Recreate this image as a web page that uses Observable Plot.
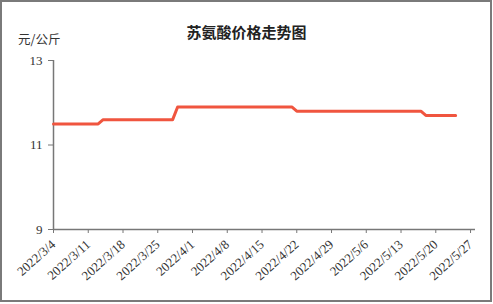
<!DOCTYPE html>
<html>
<head>
<meta charset="utf-8">
<script src="https://cdn.jsdelivr.net/npm/d3@7"></script>
<script src="https://cdn.jsdelivr.net/npm/@observablehq/plot@0.6"></script>
<style>
  html, body { margin: 0; padding: 0; background: #fff; }
  #wrap { position: relative; width: 493px; height: 304px; overflow: hidden; }
  #frame { position: absolute; left: 0; top: 0; width: 488px; height: 298px; border: 2px solid #7a7a7a; pointer-events: none; }
  #title { position: absolute; left: 0; width: 493px; top: 21px; text-align: center; font-family: "Noto Sans CJK SC", sans-serif; font-weight: bold; font-size: 15px; color: #222; }
  #ylab { position: absolute; left: 18px; top: 29px; font-family: "Noto Sans CJK SC", sans-serif; font-size: 12.5px; color: #333; }
  #chart { position: absolute; left: 0; top: 0; }
  #chart svg text { font-family: "Liberation Serif", serif; }
</style>
</head>
<body>
<div id="wrap">
  <div id="chart"></div>
  <div id="title"></div>
  <div id="ylab"></div>
  <div id="frame"></div>
</div>
<script>
const title = "苏氨酸价格走势图";
const unit = "元/公斤";
const dates = ["2022-03-04","2022-03-13","2022-03-14","2022-03-28","2022-03-29","2022-04-21","2022-04-22","2022-05-17","2022-05-18","2022-05-24"];
const prices = [11.5, 11.5, 11.6, 11.6, 11.9, 11.9, 11.8, 11.8, 11.7, 11.7];
const xTickDates = ["2022-03-04","2022-03-11","2022-03-18","2022-03-25","2022-04-01","2022-04-08","2022-04-15","2022-04-22","2022-04-29","2022-05-06","2022-05-13","2022-05-20","2022-05-27"];
const yTicks = [9, 11, 13];
const xDomain = ["2022-03-04", "2022-05-28"];

document.getElementById("title").textContent = title;
document.getElementById("ylab").textContent = unit;

const parse = d3.utcParse("%Y-%m-%d");
const data = dates.map((d, i) => ({date: parse(d), price: prices[i]}));
const fmt = d => `${d.getUTCFullYear()}/${d.getUTCMonth() + 1}/${d.getUTCDate()}`;

const chart = Plot.plot({
  width: 493,
  height: 304,
  marginTop: 60,
  marginBottom: 75,
  marginLeft: 53,
  marginRight: 18,
  style: {fontSize: "12px", color: "#333", background: "transparent"},
  x: {type: "utc", domain: xDomain.map(parse)},
  y: {domain: [9, 13]},
  marks: [
    Plot.axisX({ticks: xTickDates.map(parse), tickFormat: fmt, tickRotate: -42, tickSize: 4, tickPadding: 9, stroke: "#777", fontSize: 13, label: null}),
    Plot.axisY({ticks: yTicks, tickFormat: d3.format("d"), tickSize: 5, tickPadding: 6, stroke: "#777", fontSize: 13, label: null}),
    Plot.ruleY([9], {stroke: "#777", strokeWidth: 1.5}),
    Plot.ruleX([parse(xDomain[0])], {stroke: "#777", strokeWidth: 1.5}),
    Plot.line(data, {x: "date", y: "price", stroke: "#f0553f", strokeWidth: 3, strokeLinejoin: "round"})
  ]
});
document.getElementById("chart").appendChild(chart);
</script>
</body>
</html>
